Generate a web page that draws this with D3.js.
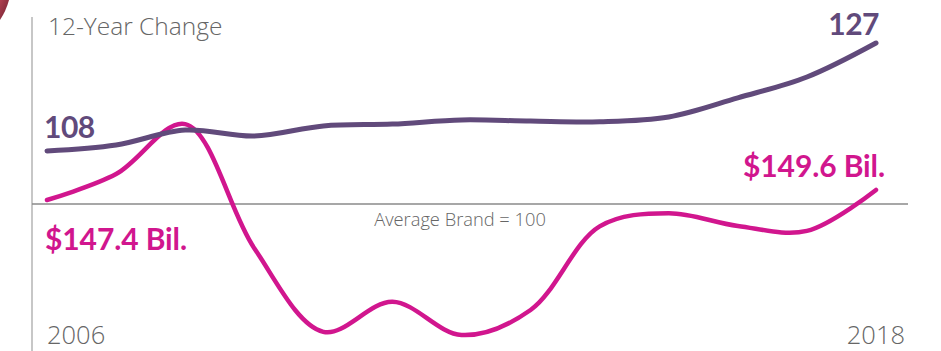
<!DOCTYPE html>
<html>
<head>
<meta charset="utf-8">
<script src="https://cdn.jsdelivr.net/npm/d3@7"></script>
<style>
  html, body { margin: 0; padding: 0; background: #fff; }
  svg { display: block; }
</style>
</head>
<body>
<svg id="chart" width="941" height="351"></svg>
<script>
const years = [2006, 2007, 2008, 2009, 2010, 2011, 2012, 2013, 2014, 2015, 2016, 2017, 2018];
const brandIndex = [108.9, 109.9, 112.4, 111.4, 113.1, 113.4, 114.1, 113.9, 113.8, 114.6, 117.8, 121.3, 127.0];
const revenueBil = [147.4, 153.1, 164.1, 136.8, 118.4, 125.0, 117.7, 123.2, 141.6, 144.5, 141.7, 140.6, 149.6];
const endLabelsIndex = ["108", "127"];
const endLabelsRevenue = ["$147.4 Bil.", "$149.6 Bil."];
const yearLabels = ["2006", "2018"];
const titleText = "12-Year Change";
const baselineText = "Average Brand = 100";
const baselineValue = 100;

const svg = d3.select("#chart");
const purple = "#614a7b";
const magenta = "#d1168e";
const gray = "#666666";
const lightFont = "'Open Sans', sans-serif";

const x = d3.scaleLinear().domain([2006, 2018]).range([47, 876]);
const yIdx = d3.scaleLinear().domain([100, 127]).range([204, 43]);
const yRev = d3.scaleLinear().domain([147.4, 149.6]).range([200, 190]);

// decorative corner shape
const grad = svg.append("defs").append("linearGradient").attr("id", "g1")
  .attr("x1", "0").attr("y1", "0").attr("x2", "1").attr("y2", "1");
grad.append("stop").attr("offset", "0").attr("stop-color", "#b04050");
grad.append("stop").attr("offset", "1").attr("stop-color", "#6e1f30");
svg.append("path").attr("d", "M0,0 L9,0 Q6,11 0,20 Z").attr("fill", "url(#g1)");

// vertical axis line
svg.append("line").attr("x1", 32).attr("x2", 32).attr("y1", 17).attr("y2", 351)
  .attr("stroke", "#b5b5b5").attr("stroke-width", 1.5);

// baseline
svg.append("line").attr("x1", 32).attr("x2", 908)
  .attr("y1", yIdx(baselineValue)).attr("y2", yIdx(baselineValue))
  .attr("stroke", "#8a8a8a").attr("stroke-width", 1.3);

svg.append("text").attr("x", 460).attr("y", yIdx(baselineValue) + 22)
  .attr("text-anchor", "middle").attr("font-family", lightFont).attr("font-weight", 300)
  .attr("font-size", 18.3).attr("fill", gray).text(baselineText);

svg.append("text").attr("x", 48).attr("y", 35)
  .attr("font-family", lightFont).attr("font-weight", 300)
  .attr("font-size", 24.5).attr("fill", gray).text(titleText);

// lines
const lineIdx = d3.line().x((d, i) => x(years[i])).y(d => yIdx(d)).curve(d3.curveCatmullRom.alpha(0.5));
const lineRev = d3.line().x((d, i) => x(years[i])).y(d => yRev(d)).curve(d3.curveCatmullRom.alpha(0.5));

svg.append("path").datum(revenueBil).attr("d", lineRev)
  .attr("fill", "none").attr("stroke", magenta).attr("stroke-width", 4.5)
  .attr("stroke-linecap", "round");
svg.append("path").datum(brandIndex).attr("d", lineIdx)
  .attr("fill", "none").attr("stroke", purple).attr("stroke-width", 5)
  .attr("stroke-linecap", "round");

// end labels
const bold = { "font-family": "Lato, sans-serif", "font-weight": 700, "font-size": 30 };
function styled(sel, st) { Object.entries(st).forEach(([k, v]) => sel.attr(k, v)); return sel; }

styled(svg.append("text"), bold).attr("x", 44).attr("y", 138).attr("fill", purple)
  .attr("letter-spacing", -0.5).text(endLabelsIndex[0]);
styled(svg.append("text"), bold).attr("x", 879).attr("y", 35).attr("text-anchor", "end")
  .attr("letter-spacing", -0.5).attr("fill", purple).text(endLabelsIndex[1]);
styled(svg.append("text"), bold).attr("x", 45).attr("y", 250).attr("fill", magenta)
  .attr("letter-spacing", -0.1).text(endLabelsRevenue[0]);
styled(svg.append("text"), bold).attr("x", 885).attr("y", 177).attr("text-anchor", "end")
  .attr("letter-spacing", -0.1).attr("fill", magenta).text(endLabelsRevenue[1]);

// year labels
svg.append("text").attr("x", x(2006)).attr("y", 344)
  .attr("font-family", lightFont).attr("font-weight", 300)
  .attr("font-size", 25.5).attr("fill", gray).text(yearLabels[0]);
svg.append("text").attr("x", 905).attr("y", 344).attr("text-anchor", "end")
  .attr("font-family", lightFont).attr("font-weight", 300)
  .attr("font-size", 25.5).attr("fill", gray).text(yearLabels[1]);
</script>
</body>
</html>
